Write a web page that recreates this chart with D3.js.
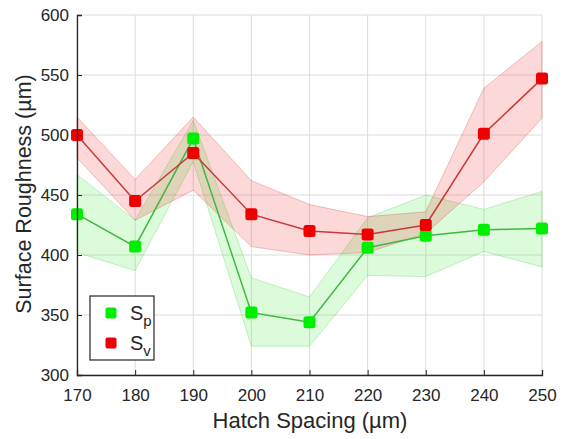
<!DOCTYPE html>
<html><head><meta charset="utf-8">
<script src="https://cdn.jsdelivr.net/npm/d3@7"></script>
<style>body{margin:0;background:#fff}svg{display:block}text{font-family:"Liberation Sans",Arial,sans-serif}</style>
</head><body><svg id="c" width="564" height="439"></svg>
<script>
const hatch = [170,180,190,200,210,220,230,240,250];
const spMean = [434,407,497,352,344,406,416,421,422];
const spUpper = [467,429,512,381,365,431,450,438,453];
const spLower = [402,387,478,324,324,383,382,403,390];
const svMean = [500,445,485,434,420,417,425,501,547];
const svUpper = [515,463,515,462,442,432,436,539,578];
const svLower = [481,429,454,407,400,402,418,461,514];
const xTicks = [170,180,190,200,210,220,230,240,250];
const yTicks = [300,350,400,450,500,550,600];

const svg = d3.select("#c");
const x = d3.scaleLinear().domain([170,250]).range([77,542]);
const y = d3.scaleLinear().domain([300,600]).range([375,15]);

// grid
svg.append("g").selectAll("line").data(xTicks).join("line")
  .attr("x1",d=>x(d)).attr("x2",d=>x(d)).attr("y1",y(300)).attr("y2",y(600))
  .attr("stroke","#dcdcdc").attr("stroke-width",1);
svg.append("g").selectAll("line").data(yTicks).join("line")
  .attr("x1",x(170)).attr("x2",x(250)).attr("y1",d=>y(d)).attr("y2",d=>y(d))
  .attr("stroke","#dcdcdc").attr("stroke-width",1);

const series = [
  {mean:spMean, up:spUpper, lo:spLower, fill:"rgba(40,230,40,0.17)", bandStroke:"rgba(40,200,40,0.25)", line:"#40b840", mk:"#00ee00"},
  {mean:svMean, up:svUpper, lo:svLower, fill:"rgba(240,40,40,0.18)", bandStroke:"rgba(200,40,40,0.25)", line:"#c83a3a", mk:"#ee0000"}
];
const area = d3.area().x((d,i)=>x(hatch[i])).y0(d=>y(d[0])).y1(d=>y(d[1]));
series.forEach(s=>{
  const pts = hatch.map((h,i)=>[s.lo[i],s.up[i]]);
  svg.append("path").attr("d",area(pts)).attr("fill",s.fill).attr("stroke",s.bandStroke).attr("stroke-width",1);
});
const line = d3.line().x((d,i)=>x(hatch[i])).y(d=>y(d));
series.forEach(s=>{
  svg.append("path").attr("d",line(s.mean)).attr("fill","none").attr("stroke",s.line).attr("stroke-width",1.5);
});
series.forEach(s=>{
  svg.append("g").selectAll("rect").data(s.mean).join("rect")
    .attr("x",(d,i)=>x(hatch[i])-6).attr("y",d=>y(d)-6)
    .attr("width",12).attr("height",12).attr("rx",2.5)
    .attr("fill",s.mk);
});

// axes
const xAxis = svg.append("g").attr("transform",`translate(0,${y(300)})`)
  .call(d3.axisBottom(x).tickValues(xTicks).tickSize(-5).tickPadding(14).tickFormat(d3.format("d")));
const yAxis = svg.append("g").attr("transform",`translate(${x(170)},0)`)
  .call(d3.axisLeft(y).tickValues(yTicks).tickSize(-5).tickPadding(8).tickFormat(d3.format("d")));
[xAxis,yAxis].forEach(a=>{
  a.select(".domain").attr("stroke","#262626").attr("stroke-width",1.3);
  a.selectAll(".tick line").attr("stroke","#262626");
  a.selectAll("text").attr("fill","#262626").attr("font-size",17);
});

svg.append("text").attr("x",310).attr("y",428).attr("text-anchor","middle")
  .attr("font-size",22).attr("fill","#262626").text("Hatch Spacing (µm)");
svg.append("text").attr("transform","translate(31,194) rotate(-90)").attr("text-anchor","middle")
  .attr("font-size",21.5).attr("fill","#262626").text("Surface Roughness (µm)");

// legend
const lg = svg.append("g");
lg.append("rect").attr("x",90).attr("y",296).attr("width",64).attr("height",64)
  .attr("fill","#fff").attr("stroke","#262626").attr("stroke-width",1.2);
const legItems = [{c:"#00ee00",sub:"p",yy:313},{c:"#ee0000",sub:"v",yy:343}];
legItems.forEach(it=>{
  lg.append("rect").attr("x",111-5.5).attr("y",it.yy-5.5).attr("width",11).attr("height",11).attr("rx",2).attr("fill",it.c);
  const t = lg.append("text").attr("x",130).attr("y",it.yy+7).attr("font-size",20).attr("fill","#262626");
  t.append("tspan").text("S");
  t.append("tspan").attr("dy",6).attr("font-size",15).text(it.sub);
});
</script></body></html>
